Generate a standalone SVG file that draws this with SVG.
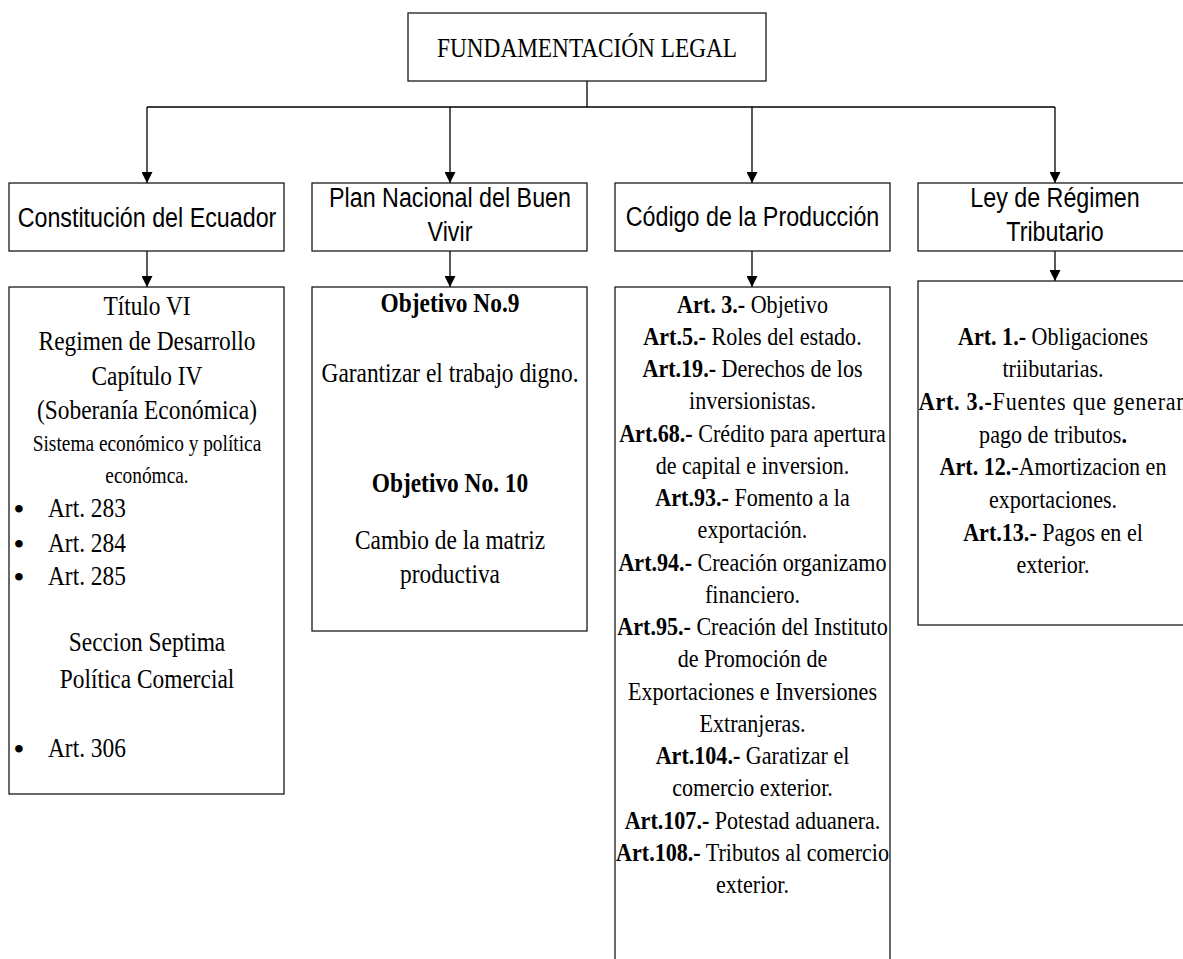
<svg xmlns="http://www.w3.org/2000/svg" width="1183" height="959" viewBox="0 0 1183 959">
<style>
.box{fill:#fff;stroke:#1a1a1a;stroke-width:1.3}
.ln{fill:none;stroke:#000;stroke-width:1.3}
.sans{font-family:"Liberation Sans",Arial,sans-serif;font-size:27.4px;fill:#000;text-anchor:middle}
.serif{font-family:"Liberation Serif","Times New Roman",serif;fill:#000;text-anchor:middle}
.f27{font-size:27.5px}
.f26{font-size:26px}
.f23{font-size:22.8px}
.st{text-anchor:start}
.b{font-weight:bold}
.bul{font-family:"Liberation Serif","Times New Roman",serif;font-size:28px;font-weight:bold;fill:#000;text-anchor:middle}
</style>
<defs>
<marker id="arr" viewBox="0 0 12 12" refX="12" refY="6" markerWidth="11" markerHeight="11" markerUnits="userSpaceOnUse" orient="auto">
<path d="M0,0 L12,6 L0,12 z" fill="#000"/>
</marker>
</defs>
<rect width="1183" height="959" fill="#fff"/>

<g id="connectors">
<path class="ln" d="M587,81 V107 M147,107 H1055"/>
<path class="ln" d="M147,107 V183" marker-end="url(#arr)"/>
<path class="ln" d="M450,107 V183" marker-end="url(#arr)"/>
<path class="ln" d="M752,107 V183" marker-end="url(#arr)"/>
<path class="ln" d="M1055,107 V183" marker-end="url(#arr)"/>
<path class="ln" d="M147,251 V287" marker-end="url(#arr)"/>
<path class="ln" d="M450,251 V287" marker-end="url(#arr)"/>
<path class="ln" d="M752,251 V287" marker-end="url(#arr)"/>
<path class="ln" d="M1055,251 V281" marker-end="url(#arr)"/>
</g>

<g id="root">
<rect class="box" x="408" y="13" width="358" height="68"/>
<g transform="translate(587 0) scale(0.85 1)"><text class="serif" style="font-size:27.4px" x="0" y="57">FUNDAMENTACIÓN LEGAL</text></g>
</g>

<g id="constitucion">
<rect class="box" x="9" y="183" width="275" height="68"/>
<g transform="translate(147 0) scale(0.85 1)"><text class="sans" x="0" y="227">Constitución del Ecuador</text></g>
</g>
<g id="plan">
<rect class="box" x="312" y="183" width="275" height="68"/>
<g transform="translate(450 0) scale(0.85 1)"><text class="sans" x="0" y="207">Plan Nacional del Buen</text><text class="sans" x="0" y="241">Vivir</text></g>
</g>
<g id="codigo">
<rect class="box" x="615" y="183" width="275" height="68"/>
<g transform="translate(752.5 0) scale(0.85 1)"><text class="sans" x="0" y="226">Código de la Producción</text></g>
</g>
<g id="ley">
<rect class="box" x="918" y="183" width="275" height="68"/>
<g transform="translate(1055 0) scale(0.85 1)"><text class="sans" x="0" y="207">Ley de Régimen</text><text class="sans" x="0" y="241">Tributario</text></g>
</g>

<g id="constitucion-detalle">
<rect class="box" x="9" y="287" width="275" height="507"/>
<text class="bul" x="19" y="518">•</text>
<text class="bul" x="19" y="553">•</text>
<text class="bul" x="19" y="586">•</text>
<text class="bul" x="19" y="758">•</text>
<g transform="translate(147 0) scale(0.85 1)">
<text class="serif f27" x="0" y="315">Título VI</text>
<text class="serif f27" x="0" y="350">Regimen de Desarrollo</text>
<text class="serif f27" x="0" y="385">Capítulo IV</text>
<text class="serif f27" x="0" y="419">(Soberanía Económica)</text>
<text class="serif f23" x="0" y="451">Sistema económico y política</text>
<text class="serif f23" x="0" y="483">económca.</text>
<text class="serif f27 st" x="-116.5" y="517">Art. 283</text>
<text class="serif f27 st" x="-116.5" y="552">Art. 284</text>
<text class="serif f27 st" x="-116.5" y="585">Art. 285</text>
<text class="serif f27" x="0" y="651">Seccion Septima</text>
<text class="serif f27" x="0" y="688">Política Comercial</text>
<text class="serif f27 st" x="-116.5" y="757">Art. 306</text>
</g>
</g>

<g id="plan-detalle">
<rect class="box" x="312" y="287" width="275" height="344"/>
<g transform="translate(450 0) scale(0.85 1)">
<text class="serif f27 b" x="0" y="312">Objetivo No.9</text>
<text class="serif f27" x="0" y="382">Garantizar el trabajo digno.</text>
<text class="serif f27 b" x="0" y="492">Objetivo No. 10</text>
<text class="serif f27" x="0" y="549">Cambio de la matriz</text>
<text class="serif f27" x="0" y="583">productiva</text>
</g>
</g>

<g id="codigo-detalle">
<rect class="box" x="615" y="287" width="275" height="690"/>
<g transform="translate(752.5 0) scale(0.85 1)">
<text class="serif f26" x="0" y="313"><tspan class="b">Art. 3.-</tspan> Objetivo</text>
<text class="serif f26" x="0" y="345"><tspan class="b">Art.5.-</tspan> Roles del estado.</text>
<text class="serif f26" x="0" y="377"><tspan class="b">Art.19.-</tspan> Derechos de los</text>
<text class="serif f26" x="0" y="409">inversionistas.</text>
<text class="serif f26" x="0" y="442"><tspan class="b">Art.68.-</tspan> Crédito para apertura</text>
<text class="serif f26" x="0" y="474">de capital e inversion.</text>
<text class="serif f26" x="0" y="506"><tspan class="b">Art.93.-</tspan> Fomento a la</text>
<text class="serif f26" x="0" y="538">exportación.</text>
<text class="serif f26" x="0" y="571"><tspan class="b">Art.94.-</tspan> Creación organizamo</text>
<text class="serif f26" x="0" y="603">financiero.</text>
<text class="serif f26" x="0" y="635"><tspan class="b">Art.95.-</tspan> Creación del Instituto</text>
<text class="serif f26" x="0" y="667">de Promoción de</text>
<text class="serif f26" x="0" y="700">Exportaciones e Inversiones</text>
<text class="serif f26" x="0" y="732">Extranjeras.</text>
<text class="serif f26" x="0" y="764"><tspan class="b">Art.104.-</tspan> Garatizar el</text>
<text class="serif f26" x="0" y="796">comercio exterior.</text>
<text class="serif f26" x="0" y="829"><tspan class="b">Art.107.-</tspan> Potestad aduanera.</text>
<text class="serif f26" x="0" y="861"><tspan class="b">Art.108.-</tspan> Tributos al comercio</text>
<text class="serif f26" x="0" y="893">exterior.</text>
</g>
</g>

<g id="ley-detalle">
<rect class="box" x="918" y="281" width="275" height="344"/>
<g transform="translate(1053 0) scale(0.85 1)">
<text class="serif f26" x="0" y="345"><tspan class="b">Art. 1.-</tspan> Obligaciones</text>
<text class="serif f26" x="0" y="377">triibutarias.</text>
<text class="serif f26" x="0" y="410" textLength="316" lengthAdjust="spacing"><tspan class="b">Art. 3.-</tspan>Fuentes que generan</text>
<text class="serif f26" x="0" y="443">pago de tributos<tspan class="b">.</tspan></text>
<text class="serif f26" x="0" y="475"><tspan class="b">Art. 12.-</tspan>Amortizacion en</text>
<text class="serif f26" x="0" y="508">exportaciones.</text>
<text class="serif f26" x="0" y="541"><tspan class="b">Art.13.-</tspan> Pagos en el</text>
<text class="serif f26" x="0" y="573">exterior.</text>
</g>
</g>
</svg>
